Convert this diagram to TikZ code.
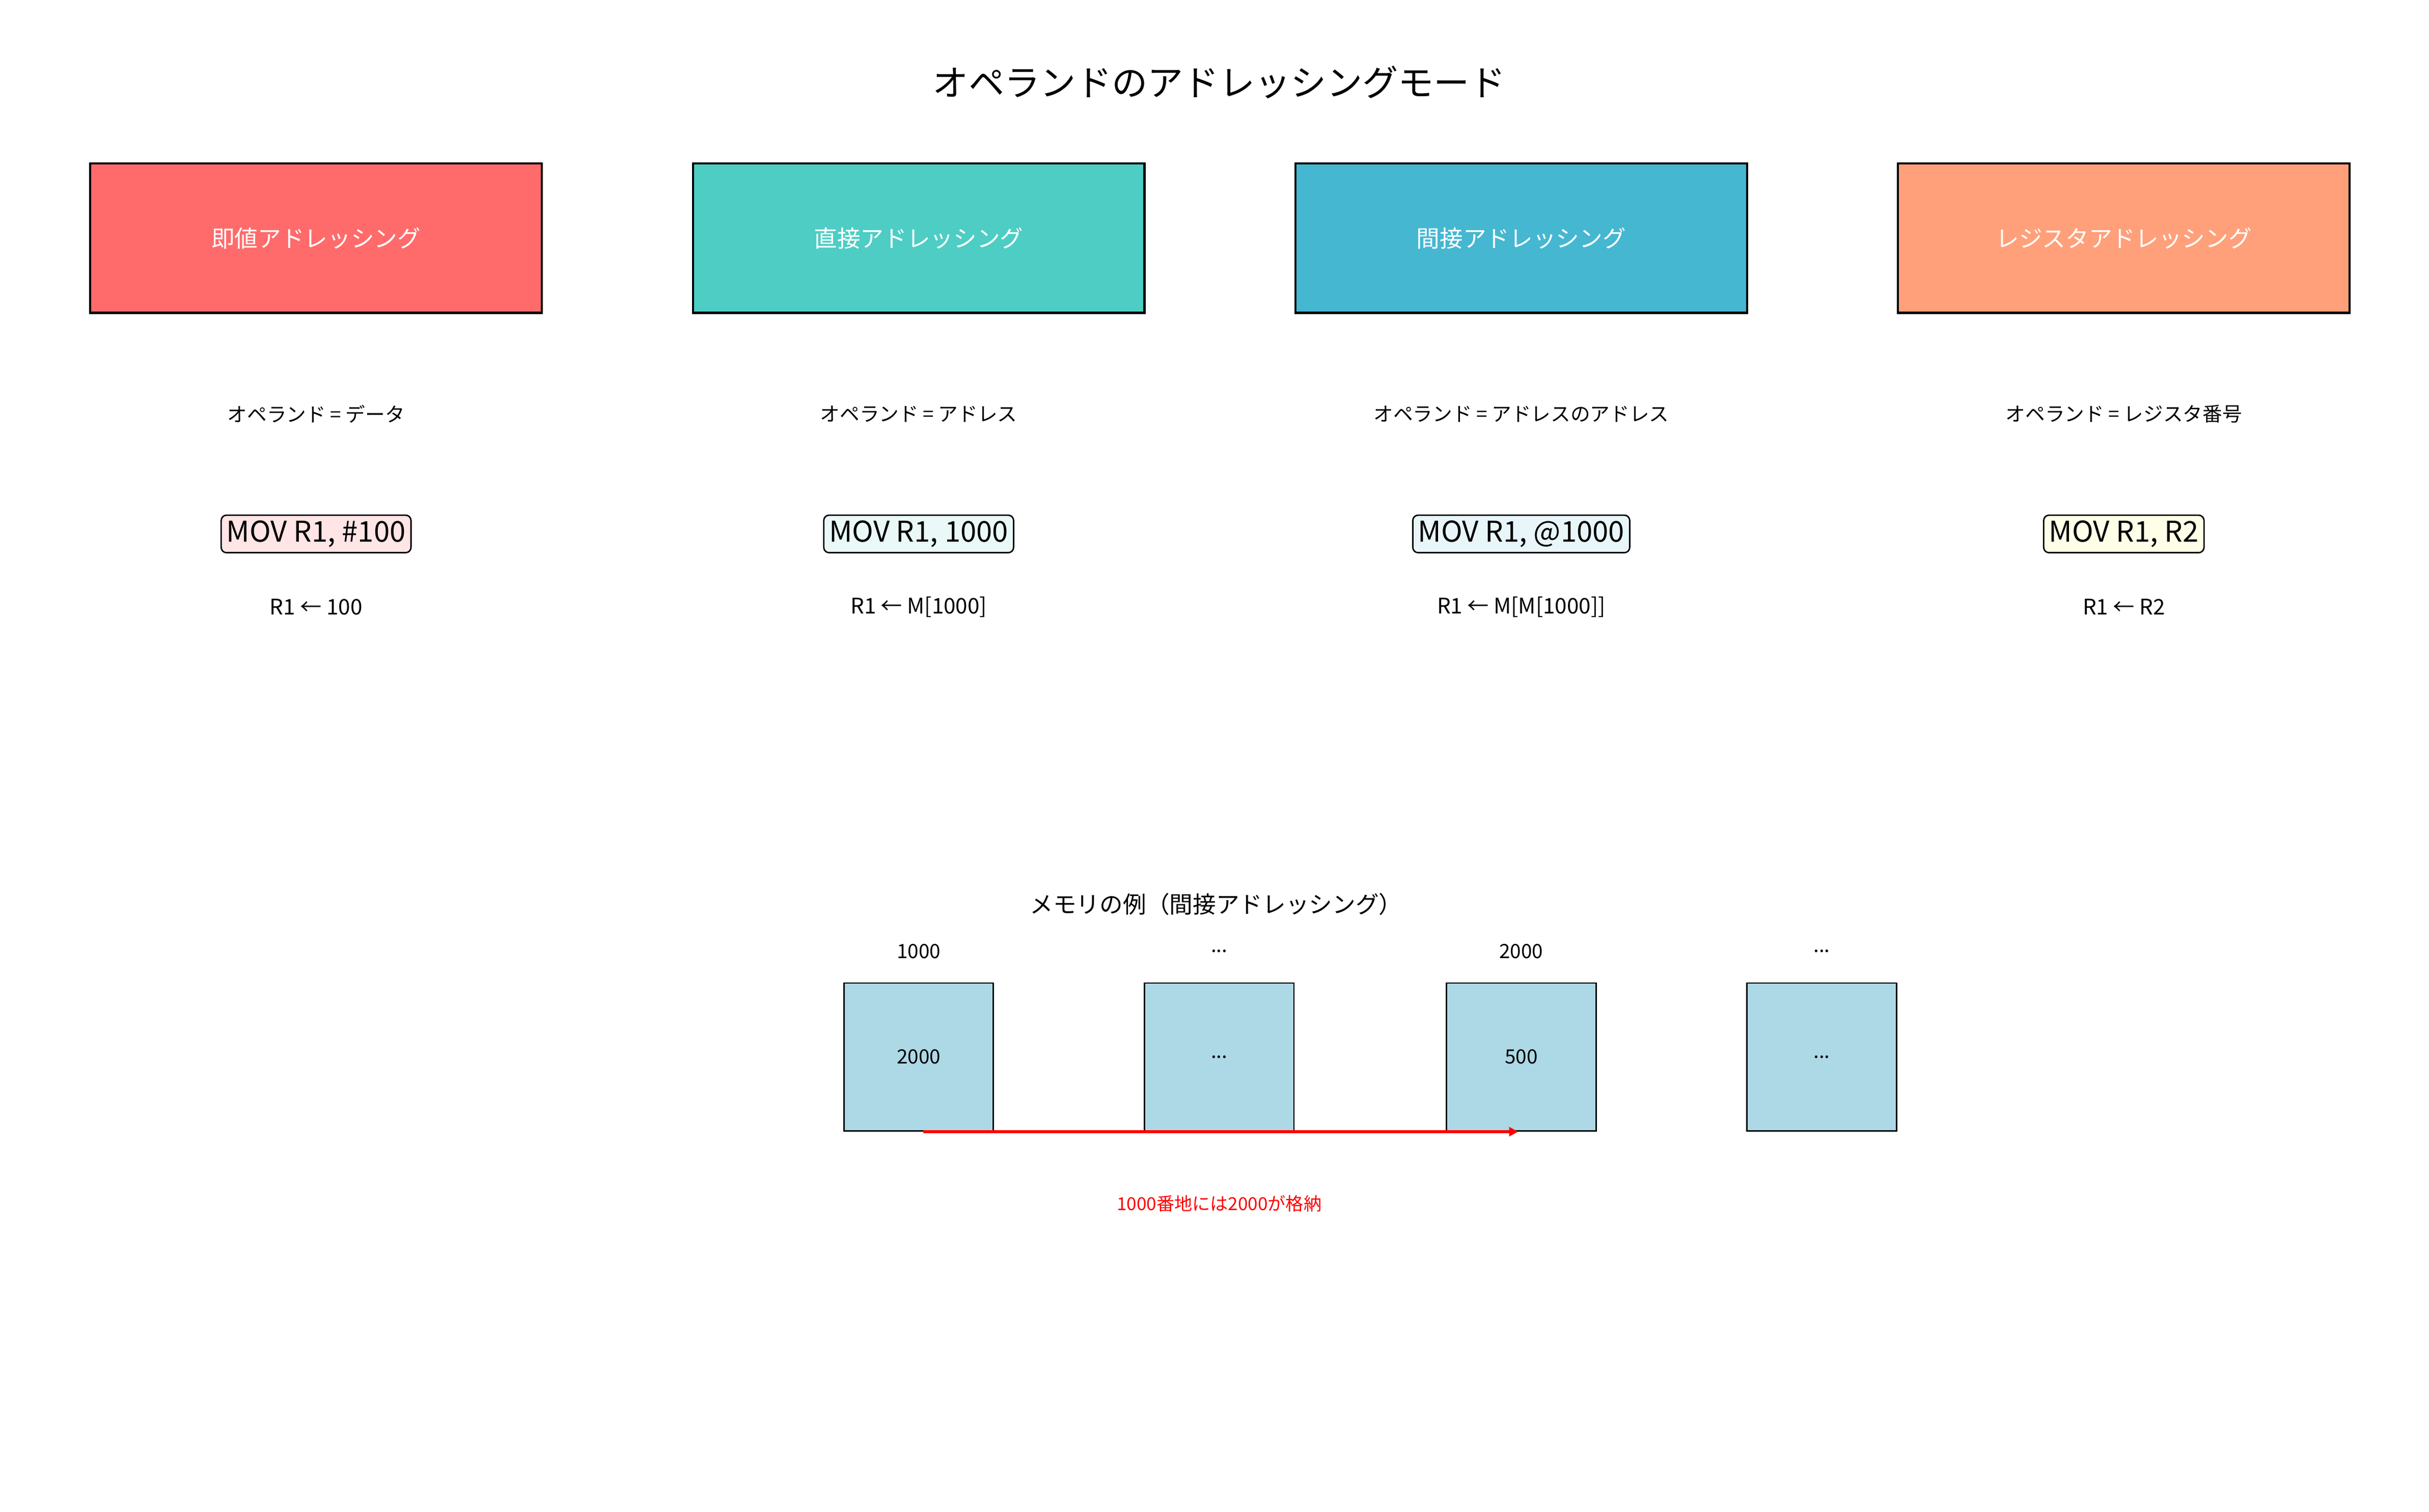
\documentclass[tikz,border=0pt]{standalone}
\usepackage{fontspec}
\setmainfont{Noto Sans CJK JP}
\usetikzlibrary{arrows.meta}
\definecolor{immcol}{HTML}{FF6B6B}
\definecolor{dircol}{HTML}{4ECDC4}
\definecolor{indcol}{HTML}{45B7D1}
\definecolor{regcol}{HTML}{FFA07A}
\definecolor{cellcol}{HTML}{ADD8E6}
\tikzset{
  modebox/.style={draw=black, line width=1.2pt, minimum width=290*0.03058cm, minimum height=96*0.03058cm, text=white, font=\fontsize{13}{15}\selectfont},
  codebox/.style={draw=black, line width=0.8pt, rounded corners=3pt, inner sep=3pt, font=\fontsize{16}{18}\selectfont},
  smalltext/.style={font=\fontsize{11}{13}\selectfont},
  memcell/.style={draw=black, line width=0.8pt, fill=cellcol, minimum width=96*0.03058cm, minimum height=95*0.03058cm, font=\fontsize{11}{13}\selectfont}
}
\begin{document}
\begin{tikzpicture}[x=0.03058cm, y=-0.03058cm]
\useasboundingbox (0,0) rectangle (1560,971);

\node[font=\fontsize{20}{24}\selectfont] (title) at (783,53) {オペランドのアドレッシングモード};

\node[modebox, fill=immcol] (m1) at (203,153) {即値アドレッシング};
\node[modebox, fill=dircol] (m2) at (590,153) {直接アドレッシング};
\node[modebox, fill=indcol] (m3) at (977,153) {間接アドレッシング};
\node[modebox, fill=regcol] (m4) at (1364,153) {レジスタアドレッシング};

\node[smalltext] (o1) at (203,266) {オペランド = データ};
\node[smalltext] (o2) at (590,266) {オペランド = アドレス};
\node[smalltext] (o3) at (977,266) {オペランド = アドレスのアドレス};
\node[smalltext] (o4) at (1364,266) {オペランド = レジスタ番号};

\node[codebox, fill=red!10] (c1) at (203,343) {MOV R1, \#100};
\node[codebox, fill=dircol!12] (c2) at (590,343) {MOV R1, 1000};
\node[codebox, fill=indcol!12] (c3) at (977,343) {MOV R1, @1000};
\node[codebox, fill=regcol!15!yellow!10] (c4) at (1364,343) {MOV R1, R2};

\node[smalltext, font=\fontsize{12}{14}\selectfont] (r1) at (203,390) {R1 ← 100};
\node[smalltext, font=\fontsize{12}{14}\selectfont] (r2) at (590,390) {R1 ← M[1000]};
\node[smalltext, font=\fontsize{12}{14}\selectfont] (r3) at (977,390) {R1 ← M[M[1000]]};
\node[smalltext, font=\fontsize{12}{14}\selectfont] (r4) at (1364,390) {R1 ← R2};

% memory example
\node[font=\fontsize{13}{15}\selectfont] (memtitle) at (781,581) {メモリの例（間接アドレッシング）};

\node[smalltext] (a1) at (590,611) {1000};
\node[smalltext] (a2) at (783,611) {...};
\node[smalltext] (a3) at (977,611) {2000};
\node[smalltext] (a4) at (1170,611) {...};

\node[memcell] (cell1) at (590,679) {2000};
\node[memcell] (cell2) at (783,679) {...};
\node[memcell] (cell3) at (977,679) {500};
\node[memcell] (cell4) at (1170,679) {...};

\coordinate (p1) at (593,727);
\coordinate (p2) at (975,727);
\draw[red, line width=1.6pt, -{Triangle[length=5pt,width=5pt]}] (p1) -- (p2);
\node[red, font=\fontsize{10}{12}\selectfont] (note) at (783,773) {1000番地には2000が格納};
\end{tikzpicture}
\end{document}
